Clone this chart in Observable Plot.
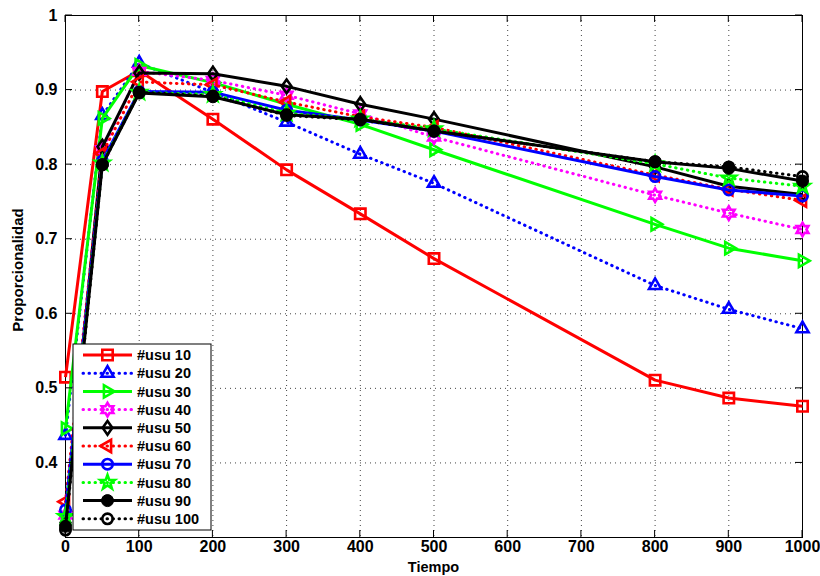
<!DOCTYPE html>
<html><head><meta charset="utf-8">
<script src="https://cdn.jsdelivr.net/npm/d3@7"></script>
<script src="https://cdn.jsdelivr.net/npm/@observablehq/plot@0.6"></script>
<style>
body{margin:0;background:#fff;}
#chart{position:relative;width:820px;height:576px;}
</style>
</head><body><div id="chart"></div>
<script>
// ---- data ----
const tiempo = [0, 50, 100, 200, 300, 400, 500, 800, 900, 1000];
const usu10  = [0.515, 0.898, 0.926, 0.861, 0.793, 0.734, 0.674, 0.511, 0.487, 0.476];
const usu20  = [0.437, 0.866, 0.936, 0.897, 0.857, 0.814, 0.775, 0.638, 0.606, 0.580];
const usu30  = [0.446, 0.862, 0.933, 0.910, 0.881, 0.854, 0.820, 0.720, 0.688, 0.671];
const usu40  = [0.330, 0.820, 0.925, 0.913, 0.893, 0.868, 0.837, 0.759, 0.735, 0.713];
const usu50  = [0.320, 0.824, 0.923, 0.922, 0.905, 0.881, 0.861, 0.797, 0.771, 0.760];
const usu60  = [0.348, 0.815, 0.911, 0.907, 0.884, 0.864, 0.850, 0.786, 0.767, 0.752];
const usu70  = [0.337, 0.805, 0.898, 0.897, 0.873, 0.860, 0.845, 0.784, 0.766, 0.758];
const usu80  = [0.328, 0.802, 0.897, 0.894, 0.869, 0.861, 0.848, 0.801, 0.782, 0.771];
const usu90  = [0.315, 0.800, 0.896, 0.891, 0.867, 0.861, 0.845, 0.804, 0.795, 0.778];
const usu100 = [0.310, 0.800, 0.897, 0.892, 0.866, 0.860, 0.845, 0.804, 0.797, 0.784];

const seriesNames  = ["#usu 10","#usu 20","#usu 30","#usu 40","#usu 50","#usu 60","#usu 70","#usu 80","#usu 90","#usu 100"];
const seriesValues = [usu10, usu20, usu30, usu40, usu50, usu60, usu70, usu80, usu90, usu100];
const seriesColors = ["#ff0000","#0000ff","#00ff00","#ff00ff","#000000","#ff0000","#0000ff","#00ff00","#000000","#000000"];
const seriesDotted = [false, true, false, true, false, true, false, true, false, true];
const seriesMarker = ["square","triangleUp","triangleRight","hexagram","diamond","triangleLeft","circle","pentagram","dot","circle"];

const xTicks = [0,100,200,300,400,500,600,700,800,900,1000];
const yTicks = [0.4,0.5,0.6,0.7,0.8,0.9,1];
const xLabel = "Tiempo";
const yLabel = "Proporcionalidad";

// ---- symbols ----
function poly(ctx, pts){ ctx.moveTo(pts[0][0], pts[0][1]); for (let i = 1; i < pts.length; i++) ctx.lineTo(pts[i][0], pts[i][1]); ctx.closePath(); }
function radial(R, angles){ return angles.map(a => [R*Math.cos(a*Math.PI/180), R*Math.sin(a*Math.PI/180)]); }
const rad = size => Math.sqrt(size/Math.PI);
const symbols = {
  square: {draw(c, s){ const r = rad(s); c.rect(-r, -r, 2*r, 2*r); }},
  triangleUp: {draw(c, s){ poly(c, radial(rad(s)*1.35, [-90, 30, 150])); }},
  triangleRight: {draw(c, s){ poly(c, radial(rad(s)*1.35, [0, 120, 240])); }},
  triangleLeft: {draw(c, s){ poly(c, radial(rad(s)*1.35, [180, 300, 60])); }},
  diamond: {draw(c, s){ const r = rad(s)*1.3; poly(c, [[0,-r],[0.7*r,0],[0,r],[-0.7*r,0]]); }},
  hexagram: {draw(c, s){ const R = rad(s)*1.3, r = R*0.58; const pts = []; for (let i = 0; i < 12; i++){ const a = (-90 + i*30)*Math.PI/180, q = i%2 ? r : R; pts.push([q*Math.cos(a), q*Math.sin(a)]); } poly(c, pts); }},
  pentagram: {draw(c, s){ const R = rad(s)*1.45, r = R*0.4; const pts = []; for (let i = 0; i < 10; i++){ const a = (-90 + i*36)*Math.PI/180, q = i%2 ? r : R; pts.push([q*Math.cos(a), q*Math.sin(a)]); } poly(c, pts); }},
  circle: {draw(c, s){ const r = rad(s); c.moveTo(r, 0); c.arc(0, 0, r, 0, 2*Math.PI); }},
  dot: {draw(c, s){ const r = rad(s); c.moveTo(r, 0); c.arc(0, 0, r, 0, 2*Math.PI); }}
};
const markerR = {square: 5.2, triangleUp: 5.2, triangleRight: 5.3, triangleLeft: 5.3, diamond: 5.3, hexagram: 5.2, pentagram: 5.2, circle: 5.2, dot: 6};

const DASH = "0.5,5.5";
const FONT = "Liberation Sans, Arial, Helvetica, sans-serif";

// ---- build marks ----
const marks = [];
marks.push(Plot.ruleX(xTicks, {x: d => d, stroke: "#444", strokeDasharray: "1,4", strokeWidth: 1}));
marks.push(Plot.ruleY(yTicks, {y: d => d, stroke: "#444", strokeDasharray: "1,4", strokeWidth: 1}));
marks.push(Plot.frame({stroke: "#000", strokeWidth: 1}));
marks.push(Plot.axisX({ticks: xTicks, tickSize: 0, tickPadding: 3, tickFormat: d => String(d), label: null}));
marks.push(Plot.axisY({ticks: yTicks, tickSize: 0, tickPadding: 8, tickFormat: d => d === 1 ? "1" : d.toFixed(1), label: null}));

seriesValues.forEach((vals, i) => {
  const data = tiempo.map((t, j) => ({t, v: vals[j]}));
  const m = seriesMarker[i];
  marks.push(Plot.line(data, {x: "t", y: "v", stroke: seriesColors[i], strokeWidth: 3,
    strokeDasharray: seriesDotted[i] ? DASH : undefined,
    strokeLinecap: seriesDotted[i] ? "round" : "butt", strokeLinejoin: "round"}));
  marks.push(Plot.dot(data, {x: "t", y: "v", symbol: symbols[m], r: markerR[m],
    stroke: seriesColors[i], strokeWidth: m === "dot" ? 1 : 2.6,
    fill: m === "dot" ? seriesColors[i] : "none"}));
});

const chart = Plot.plot({
  width: 820, height: 576,
  marginLeft: 65, marginRight: 18, marginTop: 15, marginBottom: 39,
  x: {domain: [0, 1000]},
  y: {domain: [0.3, 1]},
  style: {fontFamily: FONT, fontSize: "16px", fontWeight: "bold", color: "#000", background: "#fff"},
  marks
});
document.getElementById("chart").appendChild(chart);

const svg = d3.select(chart);
svg.selectAll("g[aria-label$='tick label'] text, g[aria-label$='tick label']")
  .style("font-size", "16px").style("font-weight", "bold");

// ---- inward ticks, labels and legend ----
const sx = chart.scale("x"), sy = chart.scale("y");
const x0 = sx.apply(0), x1 = sx.apply(1000), y0 = sy.apply(0.3), y1 = sy.apply(1);
const tg = svg.append("g").attr("stroke", "#000").attr("stroke-width", 1);
xTicks.forEach(t => {
  const x = sx.apply(t);
  tg.append("line").attr("x1", x).attr("x2", x).attr("y1", y0).attr("y2", y0 - 7);
  tg.append("line").attr("x1", x).attr("x2", x).attr("y1", y1).attr("y2", y1 + 7);
});
yTicks.forEach(t => {
  const y = sy.apply(t);
  tg.append("line").attr("x1", x0).attr("x2", x0 + 7).attr("y1", y).attr("y2", y);
  tg.append("line").attr("x1", x1).attr("x2", x1 - 7).attr("y1", y).attr("y2", y);
});

svg.append("text").text(xLabel).attr("x", (x0 + x1)/2).attr("y", 572)
  .attr("text-anchor", "middle").style("font", `bold 14.5px ${FONT}`);
svg.append("text").text(yLabel).attr("transform", `translate(23,${(y0 + y1)/2 - 6}) rotate(-90)`)
  .attr("text-anchor", "middle").style("font", `bold 15px ${FONT}`);

// legend
const LX = 73, LY = 344, LW = 138, LH = 186, ROW = 18.2;
const lg = svg.append("g");
lg.append("rect").attr("x", LX).attr("y", LY).attr("width", LW).attr("height", LH)
  .attr("fill", "#fff").attr("stroke", "#000").attr("stroke-width", 1);
seriesNames.forEach((name, i) => {
  const cy = LY + 11 + i*ROW;
  const m = seriesMarker[i];
  lg.append("line").attr("x1", LX + 10).attr("x2", LX + 59).attr("y1", cy).attr("y2", cy)
    .attr("stroke", seriesColors[i]).attr("stroke-width", 3)
    .attr("stroke-dasharray", seriesDotted[i] ? DASH : null)
    .attr("stroke-linecap", seriesDotted[i] ? "round" : "butt");
  const r = markerR[m];
  const p = d3.path(); symbols[m].draw(p, r*r*Math.PI);
  lg.append("path").attr("d", p.toString()).attr("transform", `translate(${LX + 34.5},${cy})`)
    .attr("stroke", seriesColors[i]).attr("stroke-width", m === "dot" ? 1 : 2.6)
    .attr("fill", m === "dot" ? seriesColors[i] : "none");
  lg.append("text").text(name).attr("x", LX + 64).attr("y", cy).attr("dy", "0.36em")
    .attr("text-anchor", "start").style("font", `bold 14.5px ${FONT}`);
});
</script>
</body></html>
